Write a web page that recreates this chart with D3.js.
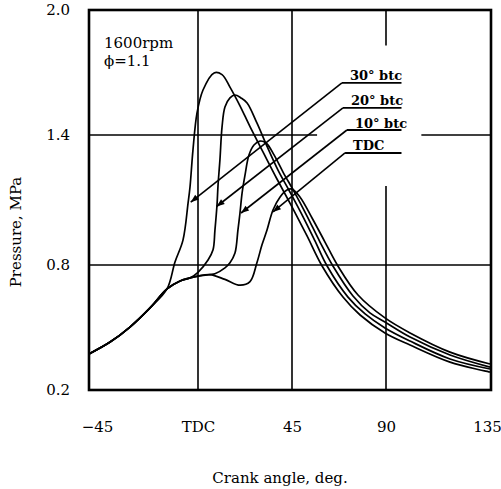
<!DOCTYPE html>
<html><head><meta charset="utf-8">
<script src="https://cdn.jsdelivr.net/npm/d3@7"></script>
<style>body{margin:0;background:#fff}svg{display:block}</style>
</head><body>
<svg id="c" width="501" height="489"></svg>
<script>
// ---- data (crank angle in deg, pressure in MPa) ----
const xTicks = [-45, 0, 45, 90, 135];
const xTickLabels = ["\u221245", "TDC", "45", "90", "135"];
const yTicks = [0.2, 0.8, 1.4, 2.0];
const yTickLabels = ["0.2", "0.8", "1.4", "2.0"];

const compression = [[-45,0.373],[-36.3,0.430],[-28.1,0.502],[-19.8,0.594],[-12.8,0.685]];

const btc30 = [[-9.5,0.814],[-6.2,0.915],[-4.1,1.086],[-3.3,1.16],[-2.1,1.328],[-0.4,1.506],[2.4,1.616],[7.7,1.698],[11.5,1.69],[15.3,1.63],[20.1,1.54],[24.9,1.44],
  [31.1,1.322],[37.8,1.197],[45,1.068],[52.2,0.934],[59.4,0.795],[69.4,0.646],[77.6,0.56],[89.5,0.474],[100.4,0.416],[117.7,0.334],[135,0.286]];
const btc20 = [[-7.4,0.723],[-3.3,0.738],[0,0.765],[4.8,0.823],[7.2,0.87],[8.1,0.96],[9.1,1.077],[9.6,1.17],[10.5,1.285],[11.5,1.438],[12.9,1.534],[15.3,1.578],[17.7,1.592],[20.6,1.578],[23.5,1.554],[28.2,1.458],
  [33.0,1.349],[38.3,1.238],[44.0,1.137],[50.3,1.022],[56.0,0.911],[61.8,0.795],[71.8,0.646],[80.0,0.565],[89.5,0.498],[100.4,0.435],[117.7,0.349],[135,0.301]];
const btc10 = [[-7.4,0.723],[-3.3,0.738],[0,0.747],[5.7,0.754],[8.1,0.758],[12.9,0.786],[15.3,0.81],[17.7,0.855],[19.1,0.96],[20.1,1.04],[21.1,1.132],[22.5,1.215],[24.4,1.308],[26.8,1.354],[29.7,1.372],
  [32.6,1.363],[36.4,1.308],[40.7,1.229],[46.4,1.132],[52.2,1.026],[58.4,0.906],[64.6,0.795],[74.2,0.651],[82.3,0.570],[89.5,0.526],[100.4,0.454],[117.7,0.368],[135,0.310]];
const tdc = [[-7.4,0.723],[-3.3,0.738],[0,0.747],[5.7,0.754],[12.9,0.731],[20.1,0.703],[24.9,0.72],[28.2,0.81],[30.6,0.892],[33,0.96],[35.9,1.054],[39.3,1.114],[42.6,1.146],[45,1.15],
  [48.8,1.114],[54.6,1.017],[60.8,0.906],[67.0,0.795],[76.6,0.656],[89.5,0.546],[100.4,0.474],[117.7,0.382],[135,0.325]];

const seriesNames = ["30\u00b0 btc", "20\u00b0 btc", "10\u00b0 btc", "TDC"];
const arrowTips = [[-3.0,1.09],[8.9,1.07],[20.6,1.04],[35.9,1.045]];
const labelStarts = [[68.9,1.65],[69.4,1.53],[71.3,1.424],[70.4,1.317]];
const labelEnd = 96.7;

// ---- scales ----
const x = d3.scaleLinear().domain(xTicks).range([89, 198, 292, 386, 490]);
const y = d3.scaleLinear().domain(yTicks).range([390, 265, 135, 10]);

const svg = d3.select("#c");
const FONT = "'DejaVu Serif', serif";

// ---- grid ----
const grid = svg.append("g").attr("stroke", "#000").attr("stroke-width", 1.6);
const gridSegs = [
  [[0,0.2],[0,2.0]],
  [[45,0.2],[45,2.0]],
  [[90,2.0],[90,1.83]],
  [[90,1.165],[90,0.2]],
  [[-45,0.8],[135,0.8]],
  [[-45,1.4],[57,1.4]],
  [[105.3,1.4],[135,1.4]]
];
gridSegs.forEach(s => grid.append("line")
  .attr("x1", x(s[0][0])).attr("y1", y(s[0][1]))
  .attr("x2", x(s[1][0])).attr("y2", y(s[1][1])));

// ---- frame ----
svg.append("rect")
  .attr("x", x(-45)).attr("y", y(2.0))
  .attr("width", x(135) - x(-45) + 1).attr("height", y(0.2) - y(2.0))
  .attr("fill", "none").attr("stroke", "#000").attr("stroke-width", 2.6);

// ---- curves ----
const line = d3.line().x(d => x(d[0])).y(d => y(d[1])).curve(d3.curveCatmullRom.alpha(0.5));
[btc30, btc20, btc10, tdc].forEach(s => {
  svg.append("path").datum(compression.concat(s))
    .attr("d", line).attr("fill", "none").attr("stroke", "#000")
    .attr("stroke-width", 1.7).attr("stroke-linejoin", "round");
});

// ---- leaders, arrows, labels ----
seriesNames.forEach((name, i) => {
  const tx = x(arrowTips[i][0]), ty = y(arrowTips[i][1]);
  const lx = x(labelStarts[i][0]), ly = y(labelStarts[i][1]);
  svg.append("line").attr("x1", tx).attr("y1", ty).attr("x2", lx).attr("y2", ly)
    .attr("stroke", "#000").attr("stroke-width", 1.6);
  svg.append("line").attr("x1", lx).attr("y1", ly).attr("x2", x(labelEnd)).attr("y2", ly)
    .attr("stroke", "#000").attr("stroke-width", 1.8);
  const ang = Math.atan2(ly - ty, lx - tx);
  const L = 8, W = 3;
  const bx = tx + L * Math.cos(ang), by = ty + L * Math.sin(ang);
  const px = -Math.sin(ang) * W, py = Math.cos(ang) * W;
  svg.append("path")
    .attr("d", `M${tx},${ty}L${bx + px},${by + py}L${bx - px},${by - py}Z`)
    .attr("fill", "#000");
  svg.append("text").attr("x", lx + 8).attr("y", ly - 2.5)
    .attr("font-family", FONT).attr("font-size", 13).attr("font-weight", "bold")
    .attr("fill", "#000").text(name);
});

// ---- axes ----
const xAxis = d3.axisBottom(x).tickValues(xTicks)
  .tickFormat((d, i) => xTickLabels[i]).tickSize(0).tickPadding(31);
const gx = svg.append("g").attr("transform", `translate(0,${y(0.2)})`).call(xAxis);
gx.select(".domain").remove();
gx.selectAll("text").attr("font-family", FONT).attr("font-size", 15).attr("fill", "#000")
  .attr("dx", (d, i) => i === 0 ? 8 : (i === 4 ? -3 : 0));

const yAxis = d3.axisLeft(y).tickValues(yTicks)
  .tickFormat((d, i) => yTickLabels[i]).tickSize(0).tickPadding(19);
const gy = svg.append("g").attr("transform", `translate(${x(-45)},0)`).call(yAxis);
gy.select(".domain").remove();
gy.selectAll("text").attr("font-family", FONT).attr("font-size", 15).attr("fill", "#000");

// ---- titles ----
svg.append("text").attr("x", 280).attr("y", 483).attr("text-anchor", "middle")
  .attr("font-family", FONT).attr("font-size", 15).text("Crank angle, deg.");
svg.append("text").attr("transform", "translate(21,232) rotate(-90)").attr("text-anchor", "middle")
  .attr("font-family", FONT).attr("font-size", 15).text("Pressure, MPa");

svg.append("text").attr("x", 104).attr("y", 48)
  .attr("font-family", FONT).attr("font-size", 15).text("1600rpm");
svg.append("text").attr("x", 104).attr("y", 66)
  .attr("font-family", FONT).attr("font-size", 15).text("\u03d5=1.1");
</script>
</body></html>
